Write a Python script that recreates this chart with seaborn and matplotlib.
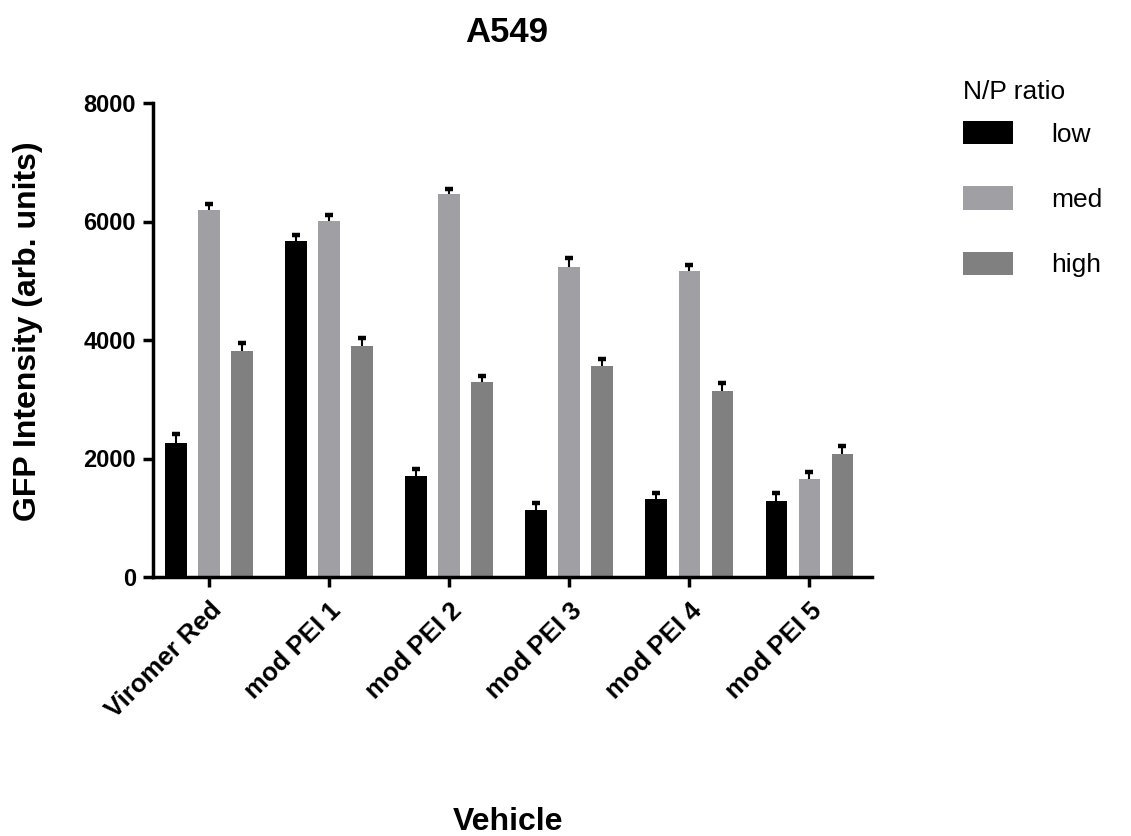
import numpy as np
import pandas as pd
import matplotlib
matplotlib.use("Agg")
import matplotlib.pyplot as plt
import seaborn as sns

# ---- data ----
vehicles = ["Viromer Red", "mod PEI 1", "mod PEI 2", "mod PEI 3", "mod PEI 4", "mod PEI 5"]
ratios = ["low", "med", "high"]
low_vals = [2265, 5673, 1702, 1127, 1313, 1291]
med_vals = [6197, 6011, 6456, 5229, 5166, 1651]
high_vals = [3820, 3899, 3285, 3556, 3139, 2074]
low_err = [147, 101, 118, 118, 111, 123]
med_err = [101, 101, 96, 150, 101, 128]
high_err = [123, 128, 111, 117, 128, 135]
yticks = [0, 2000, 4000, 6000, 8000]
colors = ["#000000", "#a09fa4", "#808080"]

values = {"low": low_vals, "med": med_vals, "high": high_vals}
errors = {"low": low_err, "med": med_err, "high": high_err}
rows = []
for r in ratios:
    for v, val in zip(vehicles, values[r]):
        rows.append({"Vehicle": v, "GFP": val, "N/P ratio": r})
df = pd.DataFrame(rows)

sns.set_style("ticks")
plt.rcParams["font.family"] = ["Liberation Sans", "DejaVu Sans"]
plt.rcParams.update({"text.color": "black", "axes.labelcolor": "black",
                     "xtick.color": "black", "ytick.color": "black",
                     "axes.edgecolor": "black"})

W, H = 1131, 836
fig = plt.figure(figsize=(W / 100, H / 100), dpi=100)
L, R, T, B = 153, 871.7, 103, 577
ax = fig.add_axes([L / W, 1 - B / H, (R - L) / W, (B - T) / H])

sns.barplot(data=df, x="Vehicle", y="GFP", hue="N/P ratio", order=vehicles,
            hue_order=ratios, palette=colors, saturation=1, width=0.825,
            gap=0.35, errorbar=None, linewidth=0, ax=ax)

# error bars (upper only)
for cont, r in zip(ax.containers, ratios):
    xs = np.array([p.get_x() + p.get_width() / 2 for p in cont])
    ys = np.array([p.get_height() for p in cont])
    err = np.array(errors[r])
    _, caps, _ = ax.errorbar(xs, ys, yerr=[np.zeros(len(err)), err], fmt="none",
                             ecolor="black", elinewidth=1.5, capsize=3.0,
                             capthick=3.2, zorder=5)
    for c in caps:
        if np.allclose(c.get_ydata(), ys):
            c.set_visible(False)

ax.set_ylim(0, 8000)
ax.set_xlim(-0.467, 5.52)
ax.set_yticks(yticks)
ax.set_yticklabels([str(t) for t in yticks], fontsize=17, fontweight="bold")
ax.set_xticks(range(len(vehicles)))
ax.set_xticklabels(vehicles, fontsize=18.5, fontweight="bold", rotation=45,
                   ha="right", rotation_mode="anchor")
sns.despine(ax=ax)
for s in ["left", "bottom"]:
    ax.spines[s].set_linewidth(2.5)
ax.tick_params(axis="both", length=7.2, width=2.5, colors="black", pad=5)
ax.tick_params(axis="x", pad=8)

ax.set_ylabel("GFP Intensity (arb. units)", fontsize=23, fontweight="bold")
ax.yaxis.set_label_coords(-0.153, 0.519)
ax.set_xlabel("Vehicle", fontsize=23, fontweight="bold")
ax.xaxis.set_label_coords(0.494, -0.485)
ax.set_title("A549", fontsize=25, fontweight="bold", x=(507 - L) / (R - L),
             y=(B - 42) / (B - T), pad=0)

sns.move_legend(ax, loc="upper left", bbox_to_anchor=(963 / W, 1 - 80 / H),
                bbox_transform=fig.transFigure, frameon=False,
                title="N/P ratio", fontsize=19, title_fontsize=19,
                handlelength=1.9, handleheight=1.0, handletextpad=1.45,
                labelspacing=1.5, borderpad=0, borderaxespad=0,
                alignment="left")
leg = ax.get_legend()
leg._legend_box.sep = 12

fig.savefig("out.png", dpi=100)
